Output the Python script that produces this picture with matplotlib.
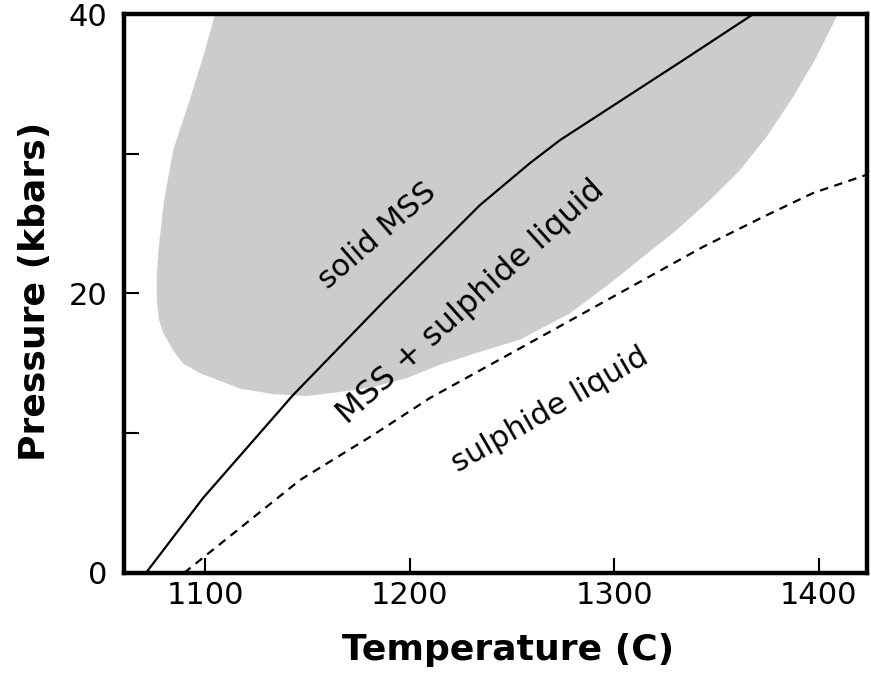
import numpy as np
import matplotlib
matplotlib.use("Agg")
import matplotlib.pyplot as plt

# solidus (solid line): temperature (C), pressure (kbar)
solid_T = [1071.1, 1099.0, 1143.0, 1188.0, 1205.0, 1234.3, 1258.8, 1273.4, 1333.7, 1368.0]
solid_P = [0, 5.36, 12.73, 19.53, 22.03, 26.32, 29.33, 30.97, 36.7, 40]

# liquidus (dashed line)
dash_T = [1089.7, 1146.4, 1182.1, 1209.9, 1270.0, 1343.4, 1372.6, 1397.0, 1423.5]
dash_P = [0, 6.65, 9.87, 12.52, 17.38, 23.34, 25.47, 27.18, 28.5]

# outline of the grey "solid MSS" field, going round from top left
field_T = [1104.9, 1100.0, 1092.4, 1084.5, 1080.0, 1077.2, 1076.4, 1076.4, 1077.5, 1079.5,
           1084.3, 1089.2, 1097.5, 1117, 1133.2, 1149.8, 1166, 1182, 1198.7, 1214.8,
           1229.5, 1253.9, 1278.3, 1297.9, 1314.1, 1330.4, 1346.7, 1361.4, 1374.4, 1387.4,
           1398.0, 1409.3]
field_P = [40, 37.4, 33.8, 30.3, 26.7, 23.1, 21.3, 19.5, 18.1, 17.2,
           15.95, 15.0, 14.3, 13.2, 12.8, 12.66, 12.95, 13.3, 13.95, 14.9,
           15.6, 16.7, 18.58, 20.72, 22.63, 24.53, 26.68, 28.82, 31.21, 34.07,
           36.7, 40]

x_ticks = [1100, 1200, 1300, 1400]
y_ticks = [0, 10, 20, 30, 40]
y_ticklabels = ["0", "", "20", "", "40"]

plt.rcParams["font.family"] = ["DejaVu Sans"]

fig = plt.figure(figsize=(8.71, 6.74), dpi=100)
ax = fig.add_axes([0.1424, 0.1499, 0.853, 0.8293])

ax.fill(field_T, field_P, color="#cccccc", lw=0, zorder=1)
ax.plot(solid_T, solid_P, color="black", lw=1.6, zorder=3)
ax.plot(dash_T, dash_P, color="black", lw=1.6, linestyle=(0, (3.8, 2.9)), zorder=3)

ax.set_xlim(1060.4, 1423.5)
ax.set_ylim(0, 40)

ax.set_xticks(x_ticks)
ax.set_yticks(y_ticks)
ax.set_yticklabels(y_ticklabels)
ax.tick_params(direction="in", length=11, width=1.5, labelsize=22, colors="black")
ax.tick_params(axis="x", pad=6)
ax.tick_params(axis="y", pad=12)
for s in ax.spines.values():
    s.set_linewidth(3.2)
    s.set_zorder(5)

ax.set_xlabel("Temperature (C)", fontsize=26, fontweight="bold")
ax.set_ylabel("Pressure (kbars)", fontsize=26, fontweight="bold")
ax.xaxis.label.set_va("center")
ax.yaxis.label.set_va("center")
ax.xaxis.set_label_coords(0.517, -0.138)
ax.yaxis.set_label_coords(-0.12, 0.503)

ax.text(1184, 24.1, "solid MSS", fontsize=22, rotation=41, ha="center", va="center",
        rotation_mode="anchor", zorder=4)
ax.text(1230, 19.4, "MSS + sulphide liquid", fontsize=23, rotation=42, ha="center",
        va="center", rotation_mode="anchor", zorder=4)
ax.text(1268.6, 11.7, "sulphide liquid", fontsize=22, rotation=30, ha="center",
        va="center", rotation_mode="anchor", zorder=4)

fig.savefig("out.png", dpi=100)
